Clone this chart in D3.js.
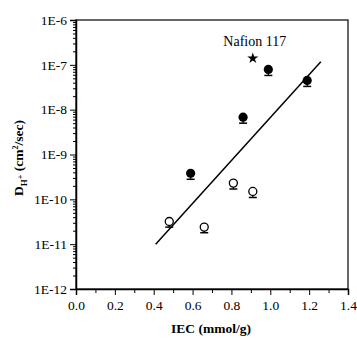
<!DOCTYPE html>
<html>
<head>
<meta charset="utf-8">
<script src="https://cdn.jsdelivr.net/npm/d3@7"></script>
<style>
  body { margin: 0; background: #fff; }
  svg text { font-family: "Liberation Serif", "DejaVu Serif", serif !important; fill: #000; }
</style>
</head>
<body>
<svg width="357" height="340"></svg>
<script>
// filled circles
const filledIEC = [0.59, 0.86, 0.99, 1.19];
const filledD = [3.8e-10, 6.8e-9, 7.9e-8, 4.5e-8];
const filledLow = [2.8e-10, 5.0e-9, 5.8e-8, 3.3e-8];

// open circles
const openIEC = [0.48, 0.66, 0.81, 0.91];
const openD = [3.2e-11, 2.4e-11, 2.3e-10, 1.5e-10];
const openLow = [2.4e-11, 1.8e-11, 1.7e-10, 1.1e-10];

// Nafion 117
const nafionIEC = [0.91];
const nafionD = [1.4e-7];

// fit line endpoints
const fitIEC = [0.41, 1.26];
const fitD = [1.0e-11, 1.17e-7];

const xTicks = [0.0, 0.2, 0.4, 0.6, 0.8, 1.0, 1.2, 1.4];
const yTicks = [1e-12, 1e-11, 1e-10, 1e-9, 1e-8, 1e-7, 1e-6];

const FONT = "Liberation Serif, DejaVu Serif, serif";

const svg = d3.select("svg");
const margin = {top: 20, right: 9, bottom: 51, left: 76};
const width = +svg.attr("width") - margin.left - margin.right;
const height = +svg.attr("height") - margin.top - margin.bottom;

const g = svg.append("g")
  .attr("transform", `translate(${margin.left},${margin.top})`);

const x = d3.scaleLinear().domain([0, 1.4]).range([0, width]);
const y = d3.scaleLog().domain([1e-12, 1e-6]).range([height, 0]);

// frame
g.append("rect")
  .attr("width", width)
  .attr("height", height)
  .attr("fill", "none")
  .attr("stroke", "#000")
  .attr("stroke-width", 1.2);

// x axis: major + minor
const xMinor = d3.range(0.1, 1.4, 0.2);
g.append("g")
  .attr("transform", `translate(0,${height})`)
  .call(d3.axisBottom(x).tickValues(xMinor).tickSize(4).tickFormat(""))
  .call(a => a.select(".domain").remove());
const xAxis = g.append("g")
  .attr("transform", `translate(0,${height})`)
  .call(d3.axisBottom(x).tickValues(xTicks).tickSize(6).tickPadding(5).tickFormat(d3.format(".1f")));
xAxis.attr("font-family", FONT).attr("font-size", 13.5);
xAxis.select(".domain").attr("stroke-width", 1.5);

// y axis: minor ticks
const yMinor = [];
yTicks.slice(0, -1).forEach(t => { for (let k = 2; k <= 9; k++) yMinor.push(t * k); });
g.append("g")
  .call(d3.axisLeft(y).tickValues(yMinor).tickSize(3).tickFormat(""))
  .call(a => a.select(".domain").remove());
const yAxis = g.append("g")
  .call(d3.axisLeft(y).tickValues(yTicks).tickSize(6).tickPadding(3)
    .tickFormat(d => "1E" + Math.round(Math.log10(d))));
yAxis.attr("font-family", FONT).attr("font-size", 13.5);
yAxis.select(".domain").attr("stroke-width", 1.5);

// fit line
g.append("line")
  .attr("x1", x(fitIEC[0])).attr("y1", y(fitD[0]))
  .attr("x2", x(fitIEC[1])).attr("y2", y(fitD[1]))
  .attr("stroke", "#000")
  .attr("stroke-width", 1.5);

// error bars
function errorBars(xs, ys, lows) {
  xs.forEach((v, i) => {
    const cx = x(v);
    g.append("line")
      .attr("x1", cx).attr("x2", cx)
      .attr("y1", y(ys[i])).attr("y2", y(lows[i]))
      .attr("stroke", "#000").attr("stroke-width", 1.2);
    g.append("line")
      .attr("x1", cx - 4).attr("x2", cx + 4)
      .attr("y1", y(lows[i])).attr("y2", y(lows[i]))
      .attr("stroke", "#000").attr("stroke-width", 1.5);
  });
}
errorBars(filledIEC, filledD, filledLow);
errorBars(openIEC, openD, openLow);

g.selectAll(".filled")
  .data(filledIEC)
  .enter().append("circle")
    .attr("class", "filled")
    .attr("cx", d => x(d))
    .attr("cy", (d, i) => y(filledD[i]))
    .attr("r", 4.6)
    .attr("fill", "#000");

g.selectAll(".open")
  .data(openIEC)
  .enter().append("circle")
    .attr("class", "open")
    .attr("cx", d => x(d))
    .attr("cy", (d, i) => y(openD[i]))
    .attr("r", 4)
    .attr("fill", "#fff")
    .attr("stroke", "#000")
    .attr("stroke-width", 1.3);

g.selectAll(".star")
  .data(nafionIEC)
  .enter().append("path")
    .attr("class", "star")
    .attr("d", d3.symbol(d3.symbolStar, 38))
    .attr("transform", (d, i) => `translate(${x(d)},${y(nafionD[i])})`)
    .attr("fill", "#000");

g.append("text")
  .attr("x", x(nafionIEC[0]) + 2)
  .attr("y", y(nafionD[0]) - 12)
  .attr("text-anchor", "middle")
  .style("font-size", "14px")
  .text("Nafion 117");

// axis titles
svg.append("text")
  .attr("x", 211)
  .attr("y", 333)
  .attr("text-anchor", "middle")
  .style("font-size", "13.5px")
  .style("font-weight", "bold")
  .text("IEC (mmol/g)");

const yt = svg.append("text")
  .attr("transform", "translate(23,158) rotate(-90)")
  .attr("text-anchor", "middle")
  .style("font-size", "13.5px")
  .style("font-weight", "bold");
yt.append("tspan").text("D");
yt.append("tspan").attr("dy", 4).style("font-size", "9px").text("H");
yt.append("tspan").attr("dy", -4).style("font-size", "8px").text("+");
yt.append("tspan").attr("dy", 0).text(" (cm");
yt.append("tspan").attr("dy", -5).style("font-size", "8px").text("2");
yt.append("tspan").attr("dy", 5).text("/sec)");
</script>
</body>
</html>
